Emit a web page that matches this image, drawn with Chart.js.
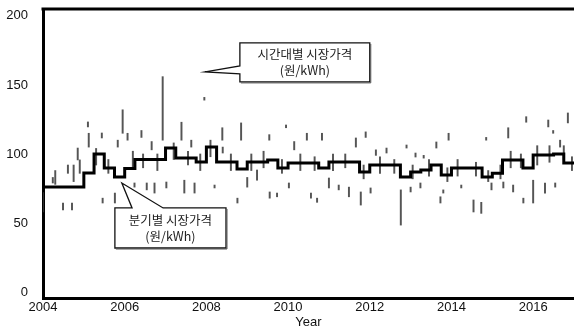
<!DOCTYPE html>
<html>
<head>
<meta charset="utf-8">
<script src="https://cdn.jsdelivr.net/npm/chart.js@4.4.1/dist/chart.umd.min.js"></script>
<style>
html, body { margin: 0; padding: 0; background: #fff; }
#wrap { width: 574px; height: 330px; }
</style>
</head>
<body>
<div id="wrap"><canvas id="priceChart" width="574" height="330"></canvas></div>
<script>
// 분기별 시장가격 (원/kWh), Q1..Q4 per year
const years = [2004, 2005, 2006, 2007, 2008, 2009, 2010, 2011, 2012, 2013, 2014, 2015, 2016];
const quarterly = [
    [76, 76, 76, 76],
    [86.2, 100, 89.9, 83.3],
    [89.5, 96, 96, 96],
    [104.3, 97.1, 97.1, 94.2],
    [105, 94.2, 94.2, 89.1],
    [94.2, 94.2, 95.7, 89.9],
    [93.5, 93.5, 93.5, 89.9],
    [94.2, 94.2, 94.2, 87],
    [92, 92, 92, 83.3],
    [87, 88.4, 92, 84.8],
    [89.9, 89.9, 89.9, 83.3],
    [86, 95.7, 95.7, 89.9],
    [99.3, 99.3, 100, 93.5]
];

// 시간대별 시장가격: visible strokes (year, low, high)
const hourlyYear = [
    2004.00, 2004.24, 2004.30, 2004.49, 2004.61, 2004.71, 2004.75, 2004.85, 2004.90,
    2005.10, 2005.12, 2005.30, 2005.44, 2005.46, 2005.60, 2005.76, 2005.83, 2005.95,
    2006.07, 2006.20, 2006.24, 2006.41, 2006.45, 2006.54, 2006.66, 2006.73, 2006.80, 2006.93,
    2007.02, 2007.20, 2007.39, 2007.46, 2007.55, 2007.63, 2007.71, 2007.85, 2007.95,
    2008.10, 2008.20, 2008.39, 2008.40, 2008.60, 2008.76, 2008.85,
    2009.00, 2009.10, 2009.24, 2009.40, 2009.54, 2009.55, 2009.73, 2009.85, 2009.95,
    2010.02, 2010.15, 2010.30, 2010.46, 2010.56, 2010.65, 2010.71, 2010.83,
    2011.00, 2011.10, 2011.24, 2011.40, 2011.49, 2011.66, 2011.78, 2011.85, 2011.90,
    2012.02, 2012.15, 2012.25, 2012.41, 2012.60, 2012.76, 2012.90,
    2013.00, 2013.05, 2013.12, 2013.24, 2013.32, 2013.45, 2013.63, 2013.73, 2013.80, 2013.90, 2013.93,
    2014.15, 2014.24, 2014.54, 2014.60, 2014.73, 2014.85, 2014.90, 2014.98,
    2015.20, 2015.27, 2015.39, 2015.45, 2015.51, 2015.70, 2015.76, 2015.83,
    2016.00, 2016.10, 2016.29, 2016.37, 2016.40, 2016.49, 2016.54, 2016.66, 2016.75, 2016.85, 2016.95
];
const hourlyLow = [
    58, 79, 78, 59.4, 86, 59.4, 80, 95.7, 86,
    119.6, 105, 92, 111.6, 64.5, 86, 64.5, 105, 115,
    110, 90, 76, 112, 90, 74, 103, 71.7, 88, 110,
    75.4, 96, 110, 71.7, 92, 105, 71.7, 88, 139,
    98, 75.4, 110, 100.7, 88, 64.5, 110,
    76, 88, 81, 90, 110, 68, 69, 86, 119,
    75.4, 103, 88, 110, 68, 88, 65, 110,
    75.4, 88, 74, 90, 69, 105, 63, 82, 112,
    71.7, 99, 86, 100.7, 86, 48.5, 104.3,
    72.5, 82, 97.8, 75.4, 97, 84, 104.3, 64.5, 71.7, 80, 110,
    84, 75.4, 58, 84, 57, 110, 80, 74,
    82, 75.4, 111.6, 90, 72.5, 90, 64.5, 123,
    64.5, 92, 71.7, 119.6, 94, 115, 76, 105, 96, 122.5, 88
];
const hourlyHigh = [
    72, 83, 88, 64.5, 92, 64.5, 92, 104.3, 95.7,
    123.2, 115, 104, 115.2, 68, 96, 71.7, 110, 132,
    115, 102, 79, 117, 100, 79, 109, 79, 100, 156,
    79.7, 108, 123, 81, 102, 110, 79, 100, 141,
    110, 77.5, 119, 105, 100, 68, 122.5,
    83, 100, 88.4, 102, 114, 72.5, 71.7, 96, 121,
    79, 109, 100, 115, 71.7, 98, 68, 115,
    82.6, 100, 77.5, 100, 76, 111.6, 72.5, 92, 116,
    75.4, 103, 98, 104.3, 96, 74, 106.5,
    76, 92, 100.7, 79, 99, 96, 108.7, 69, 74, 90, 115,
    96, 77.5, 66.7, 94, 65, 112, 88, 79,
    92, 79.7, 119, 102, 77.5, 100, 68, 127,
    81, 106, 79, 124.6, 106, 117, 79, 110, 106, 129.7, 98
];

const xTicks = [2004, 2006, 2008, 2010, 2012, 2014, 2016];
const yTicks = [0, 50, 100, 150, 200];

// 분기별 계단선 데이터
const stepData = [];
years.forEach((yr, i) => {
    quarterly[i].forEach((v, q) => stepData.push({ x: yr + q / 4, y: v }));
});
stepData.push({ x: 2017, y: quarterly[quarterly.length - 1][3] });

const hourlyData = hourlyYear.map((yr, i) => ({ x: yr, y: [hourlyLow[i], hourlyHigh[i]] }));

// 말풍선 주석
const callouts = [
    {
        lines: ['시간대별 시장가격', '(원/kWh)'],
        box: [2008.82, 2012.0, 180.4, 152.2],
        tip: [2007.97, 159.4],
        side: 'left',
        base: [163.8, 158]
    },
    {
        lines: ['분기별 시장가격', '(원/kWh)'],
        box: [2005.76, 2008.48, 60.9, 31.9],
        tip: [2005.93, 79],
        side: 'top',
        base: [2006.18, 2006.94]
    }
];

const calloutPlugin = {
    id: 'callouts',
    afterDatasetsDraw(chart) {
        const { ctx, chartArea } = chart;
        const x = chart.scales.x, y = chart.scales.y;
        ctx.save();
        // top frame line
        ctx.strokeStyle = '#000';
        ctx.lineWidth = 3;
        ctx.beginPath();
        ctx.moveTo(chartArea.left - 1.5, chartArea.top);
        ctx.lineTo(chartArea.right, chartArea.top);
        ctx.stroke();

        callouts.forEach(c => {
            const l = x.getPixelForValue(c.box[0]), r = x.getPixelForValue(c.box[1]);
            const t = y.getPixelForValue(c.box[2]), b = y.getPixelForValue(c.box[3]);
            const tx = x.getPixelForValue(c.tip[0]), ty = y.getPixelForValue(c.tip[1]);
            ctx.beginPath();
            if (c.side === 'left') {
                const b1 = y.getPixelForValue(c.base[0]), b2 = y.getPixelForValue(c.base[1]);
                ctx.moveTo(l, t);
                ctx.lineTo(r, t);
                ctx.lineTo(r, b);
                ctx.lineTo(l, b);
                ctx.lineTo(l, b2);
                ctx.lineTo(tx, ty);
                ctx.lineTo(l, b1);
            } else {
                const b1 = x.getPixelForValue(c.base[0]), b2 = x.getPixelForValue(c.base[1]);
                ctx.moveTo(l, t);
                ctx.lineTo(b1, t);
                ctx.lineTo(tx, ty);
                ctx.lineTo(b2, t);
                ctx.lineTo(r, t);
                ctx.lineTo(r, b);
                ctx.lineTo(l, b);
            }
            ctx.closePath();
            ctx.fillStyle = '#fff';
            ctx.fill();
            ctx.lineWidth = 1.3;
            ctx.strokeStyle = '#111';
            ctx.stroke();
            // slight shadow on right and bottom edges
            ctx.beginPath();
            ctx.moveTo(r + 1, t + 1);
            ctx.lineTo(r + 1, b + 1);
            ctx.lineTo(l + 1, b + 1);
            ctx.lineWidth = 1;
            ctx.strokeStyle = '#555';
            ctx.stroke();

            ctx.fillStyle = '#222';
            ctx.font = '12.5px "Noto Sans CJK KR", sans-serif';
            ctx.textAlign = 'center';
            ctx.textBaseline = 'middle';
            const cx = (l + r) / 2, cy = (t + b) / 2;
            ctx.fillText(c.lines[0], cx, cy - 8);
            ctx.fillText(c.lines[1], cx, cy + 8);
        });
        ctx.restore();
    }
};

const tickFont = { family: '"Liberation Sans", Arial, sans-serif', size: 13 };

const ctx = document.getElementById('priceChart').getContext('2d');
new Chart(ctx, {
    type: 'bar',
    data: {
        datasets: [
            {
                type: 'line',
                label: '분기별 시장가격',
                data: stepData,
                stepped: true,
                borderColor: '#000',
                borderWidth: 3,
                pointRadius: 0,
                fill: false,
                order: 0
            },
            {
                type: 'bar',
                label: '시간대별 시장가격',
                data: hourlyData,
                backgroundColor: 'rgba(55, 55, 55, 0.85)',
                borderWidth: 0,
                barThickness: 1.3,
                grouped: false,
                order: 1
            }
        ]
    },
    options: {
        responsive: false,
        animation: false,
        devicePixelRatio: 1,
        layout: { padding: { top: 9, right: 0, left: 0, bottom: 0 } },
        plugins: {
            legend: { display: false },
            tooltip: { enabled: false }
        },
        scales: {
            x: {
                type: 'linear',
                min: 2004,
                max: 2017,
                offset: false,
                grid: { display: false, drawTicks: false },
                border: { display: true, color: '#000', width: 3 },
                afterBuildTicks: scale => { scale.ticks = xTicks.map(v => ({ value: v })); },
                afterFit: scale => { scale.height = 32; },
                ticks: {
                    padding: 2,
                    color: '#111',
                    maxRotation: 0,
                    font: tickFont,
                    callback: v => String(v)
                },
                title: {
                    display: true,
                    text: 'Year',
                    color: '#111',
                    padding: { top: 0, bottom: 0 },
                    font: tickFont
                }
            },
            y: {
                min: -4.3,
                max: 205,
                grid: {
                    display: true,
                    drawOnChartArea: false,
                    drawTicks: true,
                    tickLength: 15,
                    tickColor: 'rgba(0,0,0,0)'
                },
                border: { display: true, color: '#000', width: 3 },
                afterBuildTicks: scale => { scale.ticks = yTicks.map(v => ({ value: v })); },
                afterFit: scale => { scale.width = 43; },
                ticks: {
                    padding: 0,
                    color: '#111',
                    font: tickFont
                }
            }
        }
    },
    plugins: [calloutPlugin]
});
</script>
</body>
</html>
